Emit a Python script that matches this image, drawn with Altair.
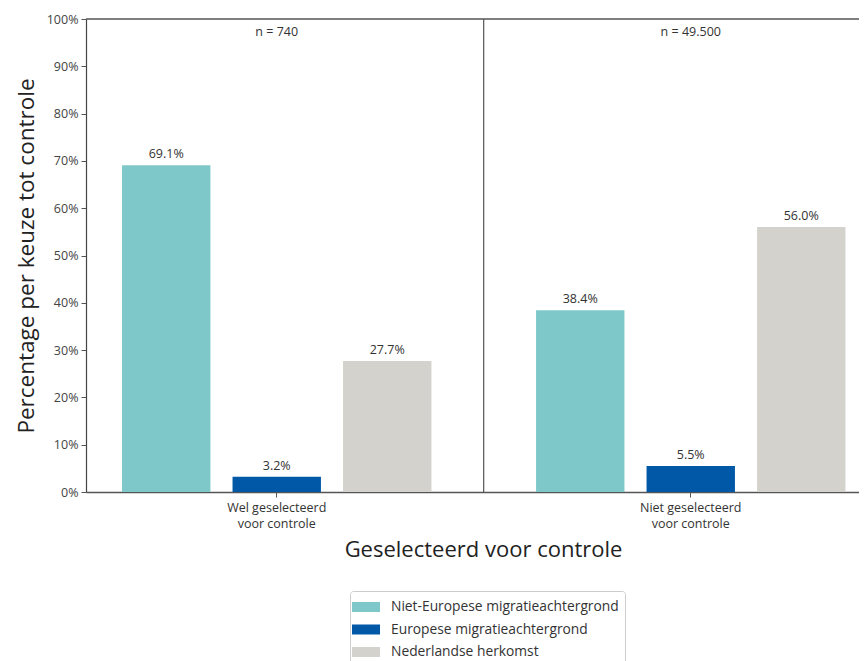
import altair as alt
import pandas as pd

groups = ["Wel geselecteerd|voor controle", "Niet geselecteerd|voor controle"]
series = ["Niet-Europese migratieachtergrond", "Europese migratieachtergrond", "Nederlandse herkomst"]
colors = ["#7FC8CA", "#0058A6", "#D3D2CD"]
values_wel = [69.1, 3.2, 27.7]
values_niet = [38.4, 5.5, 56.0]
n_labels = ["n = 740", "n = 49.500"]

rows = []
for g, vals in zip(groups, [values_wel, values_niet]):
    for s, v in zip(series, vals):
        rows.append({"group": g, "series": s, "value": v, "label": f"{v:.1f}%"})
df = pd.DataFrame(rows)
df_n = pd.DataFrame({"group": groups, "n": n_labels})
df_div = pd.DataFrame({"group": [groups[1]]})
df_top = pd.DataFrame({"y": [100]})

FONT = "Open Sans"

xscale = alt.Scale(paddingInner=0.1993, paddingOuter=0.0332, align=0.909)
xenc = alt.X(
    "group:N", sort=groups, scale=xscale,
    axis=alt.Axis(
        title="Geselecteerd voor controle", labelAngle=0,
        labelExpr="split(datum.label, '|')", labelLineHeight=16.5,
        labelFontSize=12.5, labelColor="#333", labelPadding=4,
        titleFontSize=22, titleFontWeight="normal", titleColor="#222", titlePadding=9,
        titleX=397, titleAnchor="middle",
        domainColor="#555", domainWidth=1.5, tickColor="#555", tickSize=5,
    ),
)
xoff = alt.XOffset("series:N", sort=series, scale=alt.Scale(paddingInner=0.2, paddingOuter=0.1))
yenc = alt.Y(
    "value:Q", scale=alt.Scale(domain=[0, 100]),
    axis=alt.Axis(
        title="Percentage per keuze tot controle", values=list(range(0, 101, 10)),
        labelExpr="datum.value + '%'", grid=False, labelFontSize=12.5, labelColor="#444",
        labelPadding=3, titleFontSize=22.5, titleFontWeight="normal", titleColor="#222",
        titlePadding=8, domainColor="#444", domainWidth=1.2, tickColor="#555", tickSize=5,
    ),
)

bars = alt.Chart(df).mark_bar().encode(
    x=xenc, xOffset=xoff, y=yenc,
    color=alt.Color(
        "series:N", sort=series, scale=alt.Scale(domain=series, range=colors),
        legend=alt.Legend(
            title=None, orient="none", legendX=264, legendY=572, direction="vertical",
            symbolType="M-1.4,-0.5H1.4V0.5H-1.4Z", symbolSize=400, symbolStrokeWidth=0,
            symbolOpacity=1, labelFontSize=13.8, labelColor="#333", labelOffset=15,
            labelLimit=400, strokeColor="#CCCCCC", padding=6, cornerRadius=3, rowPadding=5.5,
        ),
    ),
)

texts = alt.Chart(df).mark_text(baseline="bottom", dy=-4, fontSize=12.5, color="#333", font=FONT).encode(
    x=alt.X("group:N", sort=groups), xOffset=alt.XOffset("series:N", sort=series),
    y="value:Q", text="label:N",
)

ntext = alt.Chart(df_n).mark_text(baseline="middle", dy=13, fontSize=12.5, color="#333", font=FONT).encode(
    x=alt.X("group:N", sort=groups), y=alt.datum(100), text="n:N",
)

# divider sits halfway in the gap between the two bands (gap = 0.1993 * step)
divider = alt.Chart(df_div).mark_rule(color="#333", strokeWidth=1, xOffset=-41.25).encode(
    x=alt.X("group:N", sort=groups, bandPosition=0),
)

top = alt.Chart(df_top).mark_rule(color="#555", strokeWidth=1.5).encode(
    y="y:Q",
)

chart = alt.layer(bars, texts, ntext, divider, top).properties(
    width=773, height=473,
    autosize=alt.AutoSizeParams(type="none"),
    padding={"left": 78, "top": 11, "right": 0, "bottom": 169},
).configure(font=FONT).configure_view(stroke=None)

chart.save("out.html", embed_options={"renderer": "svg", "actions": False})
